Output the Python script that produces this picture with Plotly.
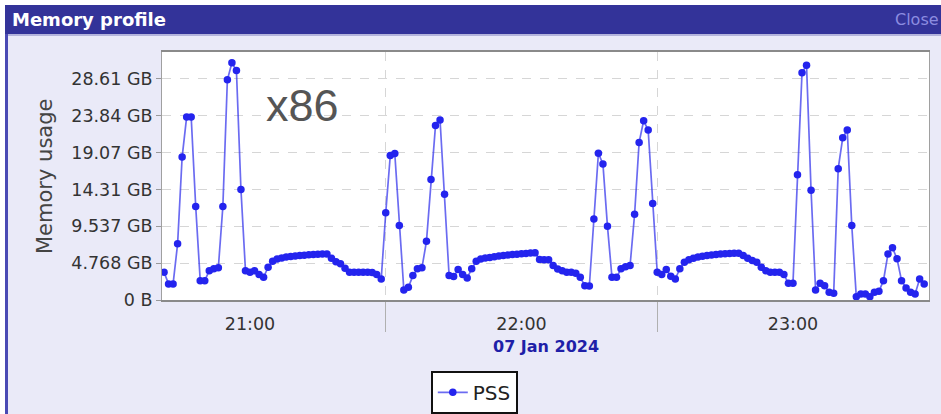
import pandas as pd
import plotly.graph_objects as go

# ---- data (GB, one sample per minute starting 20:41) ----
pss_2041_2059 = [3.59, 2.08, 2.08, 7.27, 18.5, 23.7, 23.7, 12.1, 2.5, 2.5, 3.8, 4.03, 4.16, 12.1, 28.5, 30.7, 29.7, 14.3, 3.8]
pss_2100_2159 = [3.59, 3.8, 3.29, 2.94, 4.24, 5.0, 5.3, 5.45, 5.55, 5.62,
                 5.7, 5.75, 5.8, 5.85, 5.88, 5.92, 5.95, 5.95, 5.4, 4.95,
                 4.7, 4.1, 3.6, 3.59, 3.59, 3.59, 3.59, 3.55, 3.3, 2.73,
                 11.3, 18.7, 18.97, 9.65, 1.3, 1.64, 3.16, 4.03, 4.16, 7.6,
                 15.6, 22.6, 23.3, 13.7, 3.16, 3.03, 3.94, 3.29, 2.85, 4.03,
                 5.0, 5.3, 5.45, 5.5, 5.6, 5.7, 5.75, 5.82, 5.88, 5.93]
pss_2200_2259 = [5.98, 6.03, 6.08, 6.1, 5.25, 5.2, 5.2, 4.46, 4.0, 3.8,
                 3.59, 3.59, 3.46, 2.94, 1.86, 1.82, 10.5, 19.0, 17.6, 9.56,
                 2.94, 2.94, 4.03, 4.3, 4.46, 11.1, 20.4, 23.2, 22.0, 12.5,
                 3.59, 3.3, 3.94, 3.07, 2.73, 4.03, 4.88, 5.2, 5.4, 5.55,
                 5.65, 5.75, 5.82, 5.9, 5.97, 6.0, 6.02, 6.05, 6.05, 5.75,
                 5.4, 5.1, 4.9, 4.24, 3.8, 3.6, 3.59, 3.59, 3.29, 2.16]
pss_2300_2329 = [2.16, 16.2, 29.4, 30.4, 14.2, 1.3, 2.16, 1.86, 0.99, 0.86,
                 17.0, 21.0, 22.0, 9.65, 0.43, 0.78, 0.78, 0.43, 0.99, 1.12,
                 2.5, 5.97, 6.75, 5.33, 2.5, 1.56, 0.99, 0.78, 2.73, 2.08]

pss = pss_2041_2059 + pss_2100_2159 + pss_2200_2259 + pss_2300_2329
times = pd.date_range("2024-01-07 20:41", periods=len(pss), freq="min")

y_tick_vals = [0, 4.768, 9.537, 14.305, 19.073, 23.842, 28.61]
y_tick_text = ["0 B", "4.768 GB", "9.537 GB", "14.31 GB", "19.07 GB", "23.84 GB", "28.61 GB"]
x_tick_vals = ["2024-01-07 21:00", "2024-01-07 22:00", "2024-01-07 23:00"]
x_tick_text = ["21:00", "22:00", "23:00"]
x_sep_vals = ["2024-01-07 21:30", "2024-01-07 22:30"]

# ---- figure ----
W, H = 941, 414
L, R, T, B = 162, 12, 52, 114
pw, ph = W - L - R, H - T - B

def px(x):
    return (x - L) / pw

def py(y):
    return (H - B - y) / ph

FONT = "DejaVu Sans"
fig = go.Figure()
fig.add_trace(go.Scatter(
    x=times, y=pss, name="PSS", mode="lines+markers",
    line=dict(color="rgba(50,50,235,0.72)", width=1.7),
    marker=dict(color="#2424ee", size=7.5),
))

shapes = [
    dict(type="rect", xref="paper", yref="paper", x0=px(0), x1=px(W + 5), y0=py(5), y1=py(-5),
         fillcolor="white", line_width=0, layer="below"),
    dict(type="rect", xref="paper", yref="paper", x0=px(-5), x1=px(5), y0=py(H + 5), y1=py(-5),
         fillcolor="white", line_width=0, layer="below"),
    dict(type="rect", xref="paper", yref="paper", x0=px(5), x1=px(W + 5), y0=py(34), y1=py(5),
         fillcolor="#333399", line_width=0, layer="below"),
    dict(type="rect", xref="paper", yref="paper", x0=px(8), x1=px(W + 5), y0=py(36), y1=py(34),
         fillcolor="#b4b4dc", line_width=0, layer="below"),
    dict(type="rect", xref="paper", yref="paper", x0=px(5), x1=px(8), y0=py(H + 5), y1=py(34),
         fillcolor="#4a4ab4", line_width=0, layer="below"),
]

annotations = [
    dict(text="<b>Memory profile</b>", x=px(10), y=py(20), xref="paper", yref="paper",
         xanchor="left", yanchor="middle", showarrow=False,
         font=dict(family=FONT, size=18, color="white")),
    dict(text="Close", x=px(893), y=py(20), xref="paper", yref="paper",
         xanchor="left", yanchor="middle", showarrow=False,
         font=dict(family=FONT, size=16, color="#8c8ce0")),
    dict(text="x86", x=px(302), y=py(105), xref="paper", yref="paper",
         xanchor="center", yanchor="middle", showarrow=False,
         font=dict(family="Liberation Sans", size=45, color="#555555")),
    dict(text="Memory usage", x=px(45), y=py(176), xref="paper", yref="paper",
         xanchor="center", yanchor="middle", showarrow=False, textangle=-90,
         font=dict(family=FONT, size=21, color="#444444")),
    dict(text="<b>07 Jan 2024</b>", x=px(546), y=py(346), xref="paper", yref="paper",
         xanchor="center", yanchor="middle", showarrow=False,
         font=dict(family=FONT, size=16, color="#1f1fa8")),
]

fig.update_layout(
    width=W, height=H, autosize=False,
    margin=dict(l=L, r=R, t=T, b=B, pad=0, autoexpand=False),
    paper_bgcolor="#eaeaf8", plot_bgcolor="white",
    font=dict(family=FONT, size=16, color="#333333"),
    shapes=shapes, annotations=annotations,
    showlegend=True,
    legend=dict(x=px(431), y=py(371), xanchor="left", yanchor="top",
                bgcolor="white", bordercolor="#111111", borderwidth=1.8,
                font=dict(family=FONT, size=20, color="#222222"),
                itemwidth=30),
    xaxis=dict(
        type="date",
        range=["2024-01-07 20:40:33", "2024-01-07 23:30:04"],
        tickmode="array", tickvals=x_tick_vals, ticktext=x_tick_text,
        ticks="", showgrid=False, ticklabelstandoff=7,
        tickfont=dict(family=FONT, size=17.5, color="#333333"),
        showline=True, linecolor="#8a8a8a", linewidth=2, mirror=True,
        minor=dict(tickmode="array", tickvals=x_sep_vals, ticks="outside", ticklen=30,
                   tickcolor="#b0b0b0", tickwidth=1, showgrid=True,
                   gridcolor="#d6d6d6", griddash="dash", gridwidth=1),
        zeroline=False, automargin=False,
    ),
    yaxis=dict(
        range=[0, 32.1],
        tickmode="array", tickvals=y_tick_vals, ticktext=y_tick_text,
        ticks="outside", ticklen=5, tickcolor="#999999",
        tickfont=dict(family=FONT, size=17.5, color="#333333"),
        showgrid=True, gridcolor="#d6d6d6", griddash="dash", gridwidth=1,
        showline=True, linecolor="#a0a0a0", linewidth=1, mirror=True,
        zeroline=False, automargin=False,
    ),
)

fig.write_html(
    "out.html",
    config={"displayModeBar": False},
    post_script="document.body.style.margin='0px';document.body.style.overflow='hidden';",
)
